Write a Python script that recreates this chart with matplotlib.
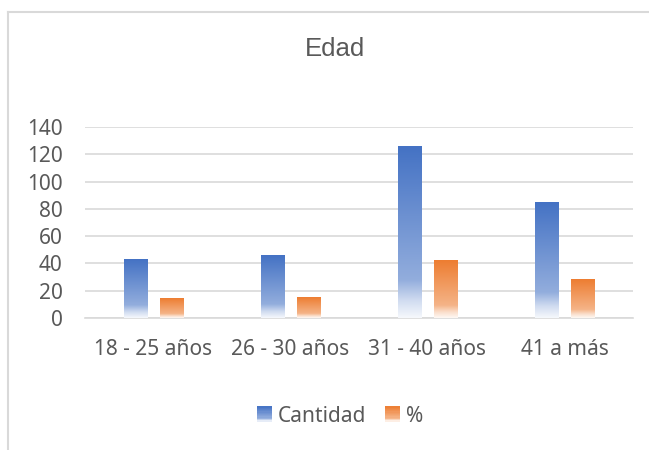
import matplotlib
matplotlib.use("Agg")
import matplotlib.pyplot as plt
import numpy as np
from matplotlib.legend_handler import HandlerBase
from matplotlib.patches import Rectangle
from matplotlib.lines import Line2D

categories = ["18 - 25 años", "26 - 30 años", "31 - 40 años", "41 a más"]
cantidad = [43, 46, 126, 85]
porcentaje = [14.3, 15.3, 42.0, 28.3]
yticks = [0, 20, 40, 60, 80, 100, 120, 140]

blue = np.array([68, 114, 196]) / 255.0
orange = np.array([237, 125, 49]) / 255.0
text_color = "#595959"
grid_color = "#D9D9D9"

plt.rcParams['font.family'] = ['Noto Sans', 'DejaVu Sans']


def white_mix(t):
    # share of white along the bar, t=0 top, t=1 bottom
    return np.interp(t, [0.0, 0.78, 0.9, 1.0], [0.0, 0.42, 0.75, 0.95])


def gradient_image(color, n=200):
    t = np.linspace(0, 1, n)
    m = white_mix(t)[:, None]
    img = color[None, :] * (1 - m) + m
    return img[:, None, :]


class GradientHandler(HandlerBase):
    def __init__(self, color):
        super().__init__()
        self.color = color

    def create_artists(self, legend, orig_handle, xdescent, ydescent,
                       width, height, fontsize, trans):
        artists = []
        n = 12
        size = width
        x0 = xdescent
        y0 = -ydescent + (height - size) / 2
        for i in range(n):
            t = (i + 0.5) / n
            m = white_mix(t)
            c = self.color * (1 - m) + m
            r = Rectangle((x0, y0 + size * (1 - (i + 1) / n)),
                          size, size / n + 0.3, facecolor=c, edgecolor='none',
                          transform=trans)
            artists.append(r)
        return artists


fig = plt.figure(figsize=(6.49, 4.5), dpi=100)
ax = fig.add_axes([85 / 649, 1 - 318 / 450, (633 - 85) / 649, (318 - 127) / 450])

x = np.arange(len(categories))
width = 0.168
offset = 0.131

bars1 = ax.bar(x - offset, cantidad, width, facecolor='none', edgecolor='none', zorder=3)
bars2 = ax.bar(x + offset, porcentaje, width, facecolor='none', edgecolor='none', zorder=3)

for bars, color in [(bars1, blue), (bars2, orange)]:
    img = gradient_image(color)
    for b in bars:
        bx, bw, bh = b.get_x(), b.get_width(), b.get_height()
        ax.imshow(img, extent=[bx, bx + bw, 0, bh], aspect='auto',
                  interpolation='bilinear', zorder=3)

ax.set_xlim(-0.5, len(categories) - 0.5)
ax.set_ylim(0, 140)
ax.set_yticks(yticks)
ax.set_xticks(x)
ax.set_xticklabels(categories)

ax.yaxis.grid(True, color=grid_color, linewidth=1.2, zorder=0)
ax.set_axisbelow(True)
for side in ['top', 'right', 'left']:
    ax.spines[side].set_visible(False)
ax.spines['bottom'].set_color(grid_color)
ax.spines['bottom'].set_linewidth(1.2)
ax.tick_params(axis='both', length=0, labelsize=15, colors=text_color)
ax.tick_params(axis='y', pad=16)
ax.tick_params(axis='x', pad=15)

fig.text(335 / 649, 1 - 56 / 450, "Edad", ha='center', va='baseline',
         fontsize=18.5, color=text_color, family=['Liberation Sans', 'DejaVu Sans'])

h1 = Rectangle((0, 0), 1, 1)
h2 = Rectangle((0, 0), 1, 1)
leg = fig.legend([h1, h2], ["Cantidad", "%"], loc='center',
                 bbox_to_anchor=(340 / 649, 1 - 416 / 450), ncol=2,
                 frameon=False, fontsize=15, handlelength=0.72,
                 handletextpad=0.3, columnspacing=0.87,
                 handler_map={h1: GradientHandler(blue), h2: GradientHandler(orange)})
for t in leg.get_texts():
    t.set_color(text_color)

# chart area border
fig.add_artist(Line2D([8 / 649, 8 / 649], [0, 1 - 12 / 450], color=grid_color,
                      linewidth=1.5, transform=fig.transFigure))
fig.add_artist(Line2D([8 / 649, 1], [1 - 12 / 450, 1 - 12 / 450], color=grid_color,
                      linewidth=1.5, transform=fig.transFigure))

fig.savefig("out.png", dpi=100)
